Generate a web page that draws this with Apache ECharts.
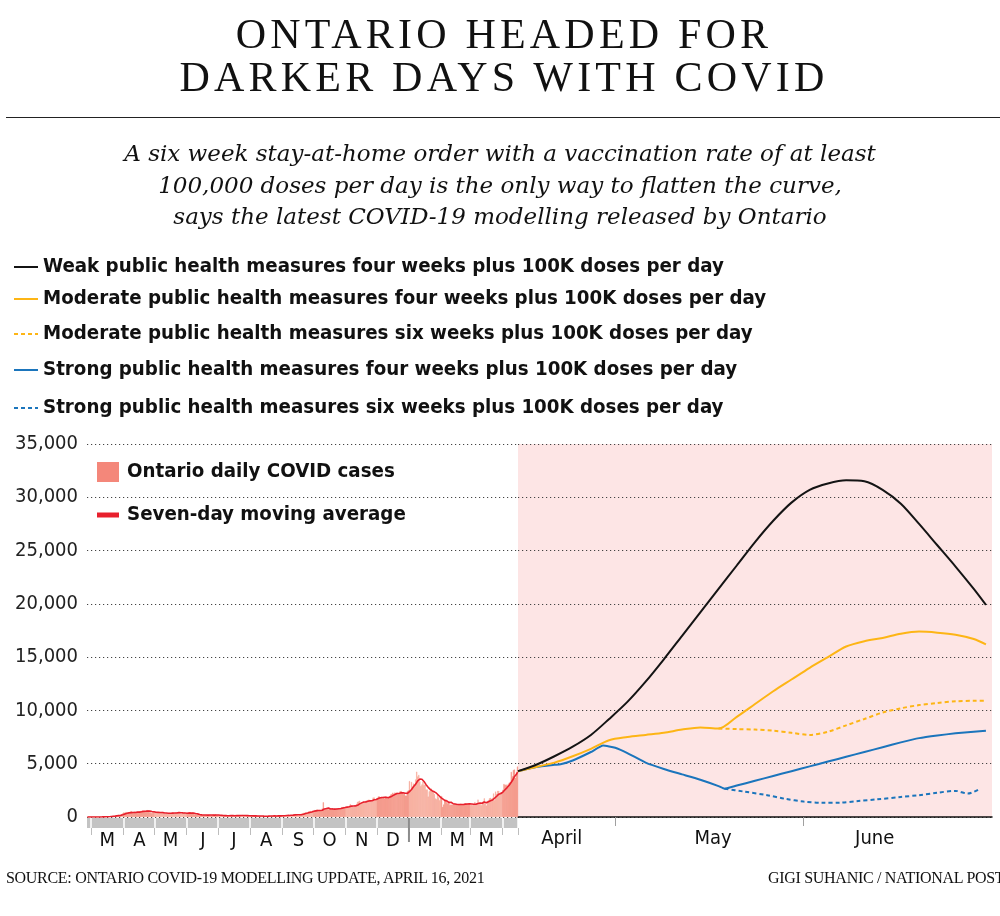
<!DOCTYPE html>
<html><head><meta charset="utf-8">
<script src="https://cdn.jsdelivr.net/npm/echarts@6/dist/echarts.min.js"></script>
<style>
html,body{margin:0;padding:0;width:1000px;height:916px;overflow:hidden;background:#fff;}
#chart{position:absolute;left:0;top:0;width:1000px;height:916px;}
.t{position:absolute;left:0;width:1000px;text-align:center;pointer-events:none;color:#111;}
#title{top:13px;font-family:'Liberation Serif','DejaVu Serif',serif;font-size:42px;line-height:43.4px;letter-spacing:4.2px;padding-left:8px;box-sizing:border-box;}
#rule{position:absolute;left:6px;right:0;top:117px;height:0;border-top:1.5px solid #222;}
#sub{top:138px;font-family:'DejaVu Serif',serif;font-style:italic;font-size:23px;line-height:31.5px;}
.foot{position:absolute;top:869px;font-family:'Liberation Serif',serif;font-size:16px;line-height:18px;letter-spacing:-0.3px;white-space:nowrap;color:#111;}
</style></head>
<body>
<div id="chart"></div>
<div id="title" class="t">ONTARIO HEADED FOR<br>DARKER DAYS WITH COVID</div>
<div id="rule"></div>
<div id="sub" class="t">A six week stay-at-home order with a vaccination rate of at least<br>100,000 doses per day is the only way to flatten the curve,<br>says the latest COVID-19 modelling released by Ontario</div>
<div class="foot" style="left:6px;">SOURCE: ONTARIO COVID-19 MODELLING UPDATE, APRIL 16, 2021</div>
<div class="foot" style="left:768px;">GIGI SUHANIC / NATIONAL POST</div>
<script>
// ---------- Historical daily cases (Feb 26, 2020 – Apr 15, 2021) ----------
const firstDay = '2020-02-26';
const casesFeb20 = [0,1,0,2];
const casesMar20 = [3,2,5,4,6,8,5,10,12,8,15,17,20,32,35,37,48,45,62,78,85,100,110,130,170,100,200,135,210,260,350];
const casesApr20 = [426,401,462,375,408,309,379,550,483,478,411,401,421,485,494,514,564,561,606,476,551,525,634,640,607,437,424,347,525,459];
const casesMay20 = [421,460,434,370,387,412,399,477,346,294,308,361,329,388,391,341,304,427,390,348,413,441,412,460,404,287,292,383,441,344,326];
const casesJun20 = [404,446,338,356,345,415,373,243,251,215,203,182,176,195,168,184,190,173,180,175,182,178,206,163,189,230,111,257,178,153];
const casesJul20 = [157,153,121,118,154,82,112,118,170,116,118,130,116,111,111,102,111,195,164,103,135,165,146,195,124,119,123,137,80,90,119];
const casesAug20 = [121,116,88,91,104,98,91,107,112,79,92,46,37,71,114,99,85,120,115,71,113,87,117,114,102,98,94,123,108,122,134];
const casesSep20 = [110,114,137,158,168,159,193,190,158,146,212,219,260,237,230,146,188,269,241,346,393,405,425,403,409,511,492,568,538,609];
const casesOct20 = [589,655,552,706,574,658,576,595,794,1380,676,746,836,801,729,740,711,704,783,694,781,739,796,782,828,822,849,928,907,962,897];
const casesNov20 = [965,983,982,1061,1212,1032,1003,963,1007,1015,1231,1427,1455,1528,1249,1383,1417,1438,1404,1527,1525,1589,1634,1493,1464,1470,1822,1825,1662,1737];
const casesDec20 = [1706,1929,1923,1852,1901,1788,1795,1716,1912,1898,1763,1858,1974,2103,2159,2281,2123,2290,2227,2287,2143,2123,2418,2428,2320,2145,2208,2003,2009,2437,2500];
const casesJan21 = [3363,2476,3286,2842,3128,2960,3519,4249,3799,3945,3338,2903,3056,3326,2998,3056,2578,2578,1913,2409,2632,2662,2359,2417,2154,1740,1670,2093,1837,1563,1848];
const casesFeb21 = [1969,945,1172,1563,1670,1388,1265,1489,1122,1172,1145,1176,1300,1164,1181,1104,1147,1138,1250,1228,1187,1158,1254,1254,1238,1258,1285,1262];
const casesMar21 = [1116,1173,1108,1144,1400,1140,1299,1631,1185,1316,1092,1371,1468,1747,1268,1074,1508,1553,1745,1791,1699,1791,2204,1571,2380,2169,2453,2448,2094,2336,2333];
const casesApr21 = [2557,3089,3009,3041,2938,3065,3215,3295,4227,3813,4401,4456,3670,4156,4736];
const monthLetters = ['M','A','M','J','J','A','S','O','N','D','M','M','M']; // Mar 2020 .. Mar 2021
const yearDivider = '2021-01-01';

// ---------- Projections (x = day counted from April 1, 2021) ----------
const projDays   = [14,17,20,23,26,29,32,35,38,41,44,47,50,53,56,59,62,65,68,71,74,77,80,83,86,89,91];
const weak4      = [4300,4900,5700,6600,7700,9200,10800,12700,14800,17000,19200,21400,23600,25800,27800,29500,30700,31300,31600,31500,30700,29400,27500,25500,23500,21400,19900];
const moderate4  = [4300,4700,5100,5700,6400,7200,7500,7700,7900,8200,8400,8300,9400,10600,11800,12900,14000,15000,16000,16500,16800,17200,17400,17300,17100,16700,16200];
const moderate6Days = [47,50,53,56,59,62,65,68,71,74,77,80,83,86,89,91];
const moderate6  = [8300,8250,8200,8100,7900,7700,8000,8600,9200,9800,10200,10500,10700,10850,10900,10900];
const strong4Days = [14,17,20,21,23,26,28,30,32,35,38,41,44,47,48,50,53,56,59,62,65,68,71,74,77,80,83,86,89,91];
const strong4    = [4300,4700,4900,4950,5300,6100,6700,6500,6000,5100,4500,4000,3500,2900,2650,2950,3400,3850,4300,4750,5200,5650,6100,6550,7000,7400,7650,7850,8000,8100];
const strong6Days = [48,51,55,58,61,64,67,70,73,77,80,83,86,88,90];
const strong6    = [2650,2400,2050,1700,1450,1330,1350,1500,1650,1880,2050,2280,2450,2200,2650];
const monthTickDays = [30,61];           // May 1, June 1
const monthLabelDays = [21.2,46.1,72.7];
const monthLabelNames = ['April','May','June'];

const names = [
  'Weak public health measures four weeks plus 100K doses per day',
  'Moderate public health measures four weeks plus 100K doses per day',
  'Moderate public health measures six weeks plus 100K doses per day',
  'Strong public health measures four weeks plus 100K doses per day',
  'Strong public health measures six weeks plus 100K doses per day'
];

const dailyCases = [].concat(casesFeb20,casesMar20,casesApr20,casesMay20,casesJun20,casesJul20,casesAug20,casesSep20,casesOct20,casesNov20,casesDec20,casesJan21,casesFeb21,casesMar21,casesApr21);
const t0 = Date.parse(firstDay + 'T00:00:00Z');
const dates = dailyCases.map((_, i) => new Date(t0 + i * 86400000).toISOString().slice(0, 10));
const movingAvg = dailyCases.map((v, i) => {
  const s = dailyCases.slice(Math.max(0, i - 6), i + 1);
  return Math.round(s.reduce((a, b) => a + b, 0) / s.length);
});
const pairs = (xs, ys) => xs.map((x, i) => [x, ys[i]]);

const SANS = "'DejaVu Sans Condensed','Liberation Sans Narrow',sans-serif";
const LEG_FONT = {fontFamily: SANS, fontWeight: 'bold', fontSize: 20.3, lineHeight: 26, color: '#111'};
const BLACK = '#141414', YELLOW = '#fdb515', BLUE = '#1b75bc', RED = '#e8202d';
const BAR_A = '#f6a392', BAR_B = '#f28a79';
const barColor = i => (+dates[i].slice(5, 7)) % 2 ? BAR_A : BAR_B;
const barData = dailyCases.map((v, i) => ({value: v,
  itemStyle: {color: barColor(i), borderColor: barColor(i), borderWidth: 0.4}}));

const legendTops = [254, 286, 321, 357, 395];
const legends = names.map((n, i) => ({
  left: 13, top: legendTops[i], padding: 0, itemWidth: 24, itemHeight: 14, itemGap: 0,
  selectedMode: false, textStyle: LEG_FONT, itemStyle: {opacity: 0}, data: [n]
}));
legends.push({left: 97, top: 459, padding: 0, itemWidth: 22, itemHeight: 20, selectedMode: false,
  textStyle: Object.assign({}, LEG_FONT, {padding: [0, 0, 0, 3]}),
  data: [{name: 'Ontario daily COVID cases', icon: 'rect', itemStyle: {color: '#f4877a', borderWidth: 0}}]});
legends.push({left: 97, top: 502, padding: 0, itemWidth: 22, itemHeight: 5, selectedMode: false,
  textStyle: Object.assign({}, LEG_FONT, {padding: [0, 0, 0, 3]}),
  data: [{name: 'Seven-day moving average', icon: 'rect', itemStyle: {color: RED, borderWidth: 0}}]});

const dotted = {type: [1.2, 2.8], color: '#444', width: 1};
const isMonthStart = (i, v) => (typeof v === 'string' ? v : dates[i]).slice(8) === '01';

const chart = echarts.init(document.getElementById('chart'));
chart.setOption({
  animation: false,
  legend: legends,
  grid: [
    {left: 87, top: 444, width: 431, height: 373},
    {left: 518, top: 444, width: 474, height: 373, show: true, backgroundColor: '#fde5e5', borderWidth: 0},
    {left: 87, top: 818, width: 431, height: 10, show: true, backgroundColor: '#c3c3c3', borderWidth: 0}
  ],
  xAxis: [
    {gridIndex: 0, type: 'category', data: dates, show: false},
    {gridIndex: 1, type: 'value', min: 14, max: 92,
      axisLine: {show: true, lineStyle: {color: '#111', width: 1.5}},
      axisTick: {show: true, customValues: monthTickDays, length: 9, lineStyle: {color: '#a0a0a0', width: 1}},
      axisLabel: {customValues: monthLabelDays, margin: 12, fontFamily: SANS, fontSize: 20, color: '#111',
        formatter: v => { const k = monthLabelDays.indexOf(v); return k >= 0 ? monthLabelNames[k] : ''; }},
      splitLine: {show: false}},
    {gridIndex: 2, type: 'category', data: dates,
      axisLine: {show: false},
      axisTick: {show: true, length: 7, interval: isMonthStart, lineStyle: {color: '#bdbdbd', width: 1}},
      splitLine: {show: true, interval: isMonthStart, lineStyle: {color: '#ffffff', width: 1.5}},
      axisLabel: {margin: 3, fontFamily: SANS, fontSize: 20, color: '#111',
        interval: (i, v) => v.slice(8) === '16',
        formatter: v => {
          const y = +v.slice(0, 4), m = +v.slice(5, 7);
          return monthLetters[(y - 2020) * 12 + m - 3] || '';
        }}}
  ],
  yAxis: [
    {gridIndex: 0, type: 'value', min: 0, max: 35000, interval: 5000,
      axisLine: {show: false}, axisTick: {show: false},
      axisLabel: {margin: 9, fontFamily: SANS, fontSize: 20, color: '#222', padding: [6, 0, 0, 0],
        formatter: v => v.toLocaleString('en-US')},
      splitLine: {show: true, lineStyle: dotted}},
    {gridIndex: 1, type: 'value', min: 0, max: 35000, interval: 5000,
      axisLine: {show: false}, axisTick: {show: false}, axisLabel: {show: false},
      splitLine: {show: true, lineStyle: dotted}},
    {gridIndex: 2, type: 'value', show: false}
  ],
  series: [
    {name: 'Ontario daily COVID cases', type: 'bar', xAxisIndex: 0, yAxisIndex: 0, data: barData,
      barCategoryGap: '0%', itemStyle: {color: '#f4877a'}},
    {name: 'Seven-day moving average', type: 'line', xAxisIndex: 0, yAxisIndex: 0, data: movingAvg,
      symbol: 'none', lineStyle: {color: RED, width: 1.6}, itemStyle: {color: RED}, z: 6},
    {name: names[0], type: 'line', xAxisIndex: 1, yAxisIndex: 1, data: pairs(projDays, weak4),
      symbol: 'none', smooth: 0.3, lineStyle: {color: BLACK, width: 2}, itemStyle: {color: BLACK}, z: 5},
    {name: names[1], type: 'line', xAxisIndex: 1, yAxisIndex: 1, data: pairs(projDays, moderate4),
      symbol: 'none', smooth: 0.3, lineStyle: {color: YELLOW, width: 2}, itemStyle: {color: YELLOW}, z: 4},
    {name: names[2], type: 'line', xAxisIndex: 1, yAxisIndex: 1, data: pairs(moderate6Days, moderate6),
      symbol: 'none', smooth: 0.3, lineStyle: {color: YELLOW, width: 2, type: [4, 3]}, itemStyle: {color: YELLOW}, z: 4},
    {name: names[3], type: 'line', xAxisIndex: 1, yAxisIndex: 1, data: pairs(strong4Days, strong4),
      symbol: 'none', smooth: 0.15, lineStyle: {color: BLUE, width: 2}, itemStyle: {color: BLUE}, z: 3},
    {name: names[4], type: 'line', xAxisIndex: 1, yAxisIndex: 1, data: pairs(strong6Days, strong6),
      symbol: 'none', smooth: 0.3, lineStyle: {color: BLUE, width: 2, type: [4, 3]}, itemStyle: {color: BLUE}, z: 3}
  ]
});

// Year divider under the band, placed through the axis scale (left edge of Jan 1, 2021)
const xCenter = chart.convertToPixel({xAxisIndex: 2}, yearDivider);
const xPrev = chart.convertToPixel({xAxisIndex: 2}, dates[dates.indexOf(yearDivider) - 1]);
const xDiv = (xCenter + xPrev) / 2;
const bandBottom = chart.convertToPixel({gridIndex: 2}, [0, 0]);
chart.setOption({graphic: [{type: 'line', z: 20,
  shape: {x1: xDiv, y1: 818, x2: xDiv, y2: 842},
  style: {stroke: '#8c8c8c', lineWidth: 2}}]});
</script>
</body></html>
